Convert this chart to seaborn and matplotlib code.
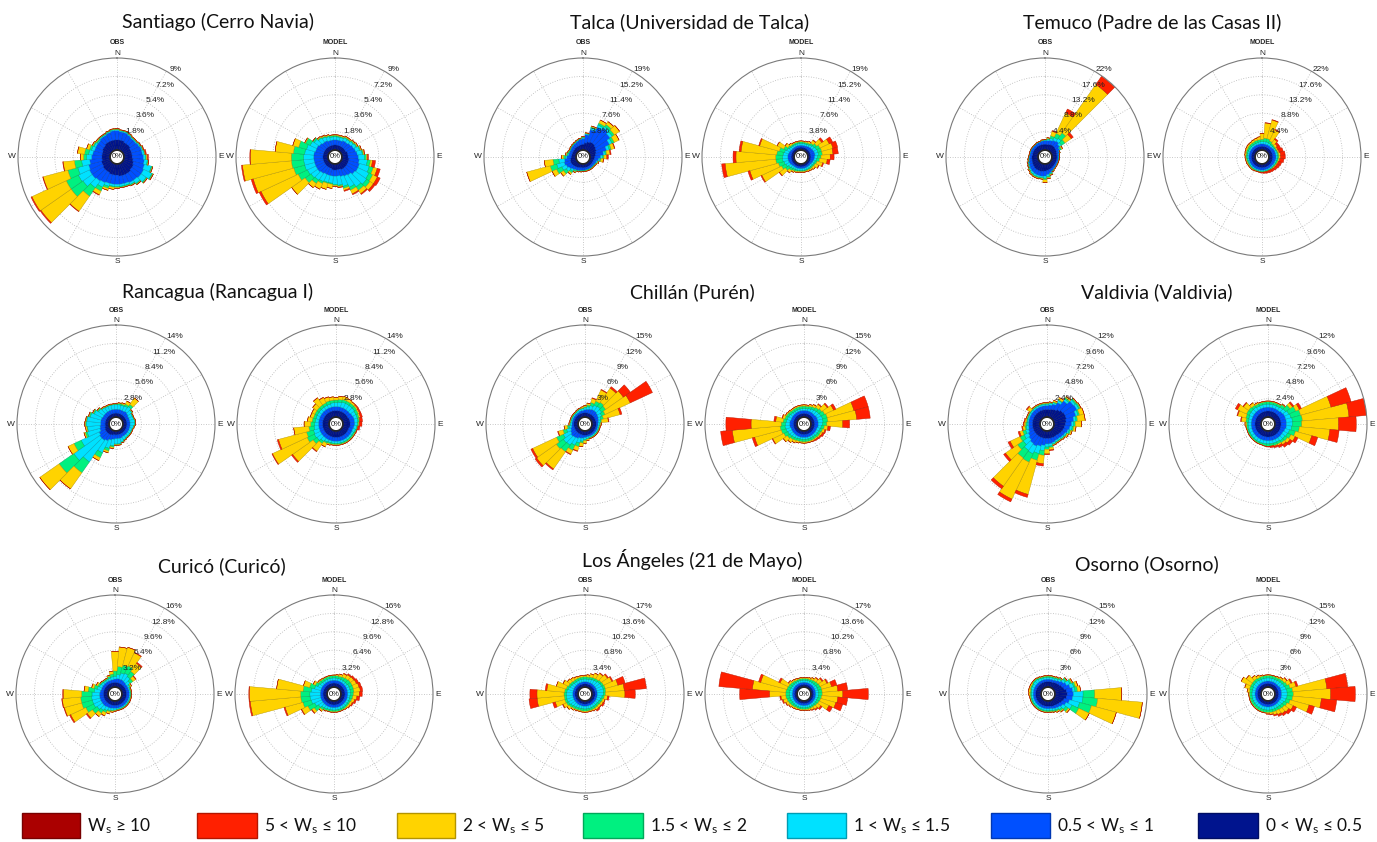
import numpy as np
import matplotlib
matplotlib.use("Agg")
import matplotlib.pyplot as plt
import seaborn as sns
from matplotlib.patches import Rectangle

sns.set_theme(style="white")
plt.rcParams['font.family'] = ['Liberation Sans', 'DejaVu Sans']

W, H = 1377, 842
R = 99

# wind direction bins (deg, clockwise from N)
DIRECTIONS = np.arange(0, 360, 10)

SPEED_LABELS = [r"$\mathregular{W_s}$ ≥ 10", r"5 < $\mathregular{W_s}$ ≤ 10", r"2 < $\mathregular{W_s}$ ≤ 5",
                r"1.5 < $\mathregular{W_s}$ ≤ 2", r"1 < $\mathregular{W_s}$ ≤ 1.5",
                r"0.5 < $\mathregular{W_s}$ ≤ 1", r"0 < $\mathregular{W_s}$ ≤ 0.5"]
# inner (calm) to outer (strong)
SPEED_COLORS = ["#00148E", "#0050FF", "#00E1FF", "#00F080", "#FFD300", "#FF2000", "#AA0000"]

# cumulative frequency (%) per direction, one row per speed class:
# 0-0.5, 0.5-1, 1-1.5, 1.5-2, 2-5, 5-10
SANTIAGO_OBS = [
    [1.0,1.0,1.0,0.9,0.9,0.9,0.8,0.8,0.8, 0.8,0.9,1.0,1.1,1.1,1.2,1.2,1.2,1.2, 1.1,1.1,1.1,1.0,1.0,1.0,0.9,0.9,0.8, 0.8,0.8,0.8,0.9,0.9,1.0,1.0,1.0,1.0],
    [1.9,1.8,1.8,1.7,1.6,1.6,1.7,1.8,1.8, 1.9,2.0,2.1,2.2,2.2,2.1,2.1,2.0,2.0, 2.0,2.0,2.0,2.1,2.2,2.3,2.3,2.2,2.0, 1.8,1.7,1.6,1.6,1.6,1.7,1.7,1.8,1.9],
    [2.0,1.9,1.9,1.8,1.7,1.7,1.8,1.9,2.0, 2.1,2.3,2.8,3.1,2.8,2.5,2.3,2.2,2.2, 2.2,2.2,2.3,2.6,3.0,3.4,3.5,3.3,2.8, 2.3,2.1,1.9,1.8,1.7,1.8,1.8,1.9,2.0],
    [2.05,1.95,1.95,1.85,1.75,1.75,1.85,1.95,2.05, 2.2,2.4,2.9,3.2,2.9,2.6,2.4,2.3,2.3, 2.3,2.3,2.5,3.0,4.0,4.8,4.8,4.3,3.5, 2.6,2.5,2.1,1.9,1.8,1.85,1.85,1.95,2.05],
    [2.1,2.0,2.0,1.9,1.8,1.8,1.9,2.0,2.1, 2.3,2.45,2.95,3.25,2.95,2.65,2.45,2.35,2.35, 2.4,2.5,2.7,3.4,5.8,8.4,8.5,6.8,4.6, 2.9,3.2,2.4,2.0,1.9,1.9,1.9,2.0,2.1],
    [2.1,2.0,2.0,1.9,1.8,1.8,1.9,2.05,2.2, 2.4,2.45,2.95,3.25,2.95,2.65,2.45,2.35,2.35, 2.4,2.5,2.7,3.45,5.85,8.5,8.6,6.85,4.65, 2.9,3.2,2.4,2.0,1.9,1.9,1.9,2.0,2.1],
]
SANTIAGO_MODEL = [
    [0.5,0.5,0.5,0.5,0.5,0.5,0.5,0.6,0.6, 0.6,0.7,0.7,0.7,0.7,0.7,0.7,0.6,0.6, 0.6,0.6,0.5,0.5,0.5,0.5,0.5,0.5,0.5, 0.5,0.5,0.5,0.5,0.5,0.5,0.5,0.5,0.5],
    [1.0,1.0,1.0,1.1,1.1,1.2,1.3,1.4,1.5, 1.6,1.7,1.8,1.8,1.7,1.5,1.4,1.3,1.2, 1.2,1.2,1.2,1.2,1.3,1.4,1.4,1.4,1.4, 1.4,1.4,1.3,1.3,1.2,1.1,1.1,1.0,1.0],
    [1.3,1.3,1.3,1.4,1.4,1.5,1.6,1.8,2.0, 2.2,2.5,2.8,3.0,3.1,2.9,2.6,2.3,2.1, 2.0,1.9,1.9,2.0,2.1,2.2,2.3,2.4,2.4, 2.4,2.3,2.2,2.0,1.8,1.6,1.5,1.4,1.3],
    [1.45,1.4,1.4,1.5,1.5,1.6,1.7,1.9,2.1, 2.4,2.8,3.2,3.4,3.5,3.3,2.9,2.5,2.2, 2.1,2.0,2.0,2.2,2.5,2.9,3.3,3.5,3.6, 3.6,3.4,3.0,2.5,2.0,1.7,1.6,1.5,1.45],
    [1.5,1.5,1.5,1.6,1.6,1.7,1.8,2.0,2.2, 2.5,3.0,3.6,3.9,3.9,3.7,3.3,2.7,2.3, 2.2,2.4,2.6,2.8,3.0,4.5,7.3,7.6,8.4, 7.6,5.2,3.6,2.6,2.0,1.8,1.7,1.6,1.5],
    [1.5,1.5,1.5,1.6,1.6,1.7,1.8,2.0,2.25, 2.6,3.3,3.9,4.2,4.1,3.8,3.4,2.8,2.35, 2.2,2.4,2.6,2.8,3.0,4.5,7.5,7.8,8.5, 7.65,5.2,3.6,2.6,2.0,1.8,1.7,1.6,1.5],
]
TALCA_OBS = [
    [1.2,1.5,1.8,2.0,2.0,1.8,1.6,1.4,1.2, 1.0,0.9,0.8,0.8,0.8,0.8,0.8,0.8,0.8, 0.8,0.8,0.9,1.0,1.1,1.2,1.3,1.3,1.2, 1.0,0.9,0.9,0.9,0.9,1.0,1.0,1.0,1.1],
    [2.4,3.2,4.4,5.4,5.8,5.4,4.6,3.6,2.8, 2.2,1.8,1.5,1.4,1.3,1.3,1.3,1.3,1.3, 1.3,1.4,1.5,1.6,1.8,2.1,2.4,2.6,2.4, 1.9,1.6,1.5,1.5,1.6,1.7,1.8,2.0,2.2],
    [2.6,3.4,4.8,5.9,6.3,6.0,5.2,4.2,3.2, 2.6,2.1,1.7,1.5,1.4,1.4,1.4,1.4,1.4, 1.4,1.5,1.6,1.8,2.2,2.8,3.4,4.2,3.6, 2.2,1.8,1.6,1.6,1.7,1.8,1.9,2.1,2.3],
    [2.7,3.5,5.0,6.3,6.8,6.5,5.7,4.6,3.5, 2.9,2.3,1.8,1.6,1.5,1.5,1.5,1.5,1.5, 1.5,1.6,1.7,2.0,2.6,3.5,4.6,5.6,4.8, 2.6,2.0,1.8,1.7,1.8,1.9,2.0,2.2,2.4],
    [2.8,3.6,5.2,7.0,7.5,7.8,6.8,5.3,4.2, 3.5,2.8,2.0,1.7,1.6,1.6,1.6,1.6,1.6, 1.6,1.7,1.8,2.2,3.0,4.2,5.6,10.6,6.6, 3.0,2.2,1.9,1.8,1.9,2.0,2.1,2.3,2.5],
    [2.8,3.6,5.2,7.0,7.5,7.8,6.8,5.4,4.4, 3.8,2.9,2.0,1.7,1.6,1.6,1.6,1.6,1.6, 1.6,1.7,1.8,2.2,3.0,4.2,5.6,10.6,6.6, 3.0,2.2,1.9,1.8,1.9,2.0,2.1,2.3,2.5],
]
TALCA_MODEL = [
    [0.6,0.6,0.6,0.6,0.6,0.6,0.6,0.6,0.6, 0.6,0.6,0.6,0.6,0.6,0.6,0.6,0.6,0.6, 0.6,0.6,0.6,0.6,0.6,0.6,0.6,0.6,0.6, 0.6,0.6,0.6,0.6,0.6,0.6,0.6,0.6,0.6],
    [1.0,1.0,1.0,1.1,1.2,1.3,1.4,1.5,1.5, 1.4,1.3,1.2,1.1,1.0,1.0,1.0,1.0,1.0, 1.0,1.0,1.0,1.0,1.0,1.1,1.2,1.3,1.3, 1.3,1.3,1.2,1.1,1.0,1.0,1.0,1.0,1.0],
    [1.4,1.4,1.4,1.5,1.7,1.9,2.1,2.2,2.2, 2.0,1.8,1.6,1.5,1.4,1.4,1.4,1.4,1.4, 1.4,1.4,1.4,1.4,1.5,1.7,2.0,2.2,2.4, 2.4,2.3,2.1,1.8,1.5,1.4,1.4,1.4,1.4],
    [1.7,1.7,1.7,1.8,2.1,2.5,2.9,3.0,3.0, 2.7,2.4,2.0,1.8,1.7,1.7,1.6,1.6,1.6, 1.6,1.6,1.7,1.8,2.0,2.5,3.0,3.4,3.8, 3.8,3.6,3.2,2.5,1.9,1.7,1.7,1.7,1.7],
    [1.9,1.9,2.0,2.2,2.8,3.8,5.0,5.4,5.2, 4.6,4.0,3.2,2.6,2.2,2.0,1.9,1.8,1.8, 1.8,1.8,1.9,2.1,2.6,4.0,7.5,9.5,14.3, 12.0,11.0,7.4,4.0,2.6,2.1,1.9,1.9,1.9],
    [1.9,1.9,2.0,2.2,2.9,4.2,5.8,6.4,6.3, 5.4,4.6,3.4,2.7,2.2,2.0,1.9,1.8,1.8, 1.8,1.8,1.9,2.1,2.6,4.1,7.7,9.9,15.0, 12.6,11.4,7.6,4.0,2.6,2.1,1.9,1.9,1.9],
]
TEMUCO_OBS = [
    [1.4,1.4,1.5,1.6,1.6,1.5,1.4,1.3,1.2, 1.2,1.2,1.2,1.2,1.2,1.3,1.4,1.5,1.6, 1.7,1.8,1.9,1.9,1.9,1.8,1.7,1.6,1.5, 1.5,1.4,1.4,1.4,1.4,1.4,1.4,1.4,1.4],
    [2.2,2.3,2.5,2.8,3.0,2.6,2.2,1.9,1.7, 1.6,1.6,1.6,1.6,1.7,1.8,2.0,2.3,2.6, 2.9,3.0,3.0,3.0,2.9,2.8,2.6,2.4,2.2, 2.1,2.0,2.0,2.0,2.0,2.0,2.1,2.1,2.2],
    [2.4,2.6,3.0,3.5,3.8,3.2,2.4,2.0,1.8, 1.7,1.7,1.7,1.7,1.8,1.9,2.1,2.5,3.0, 3.4,3.3,3.4,3.4,3.3,3.1,2.8,2.6,2.3, 2.2,2.1,2.1,2.1,2.1,2.1,2.2,2.2,2.3],
    [2.5,2.8,3.6,4.6,5.4,4.2,2.7,2.1,1.85, 1.75,1.75,1.75,1.75,1.85,1.95,2.2,2.7,3.3, 3.8,3.5,3.6,3.6,3.5,3.2,2.9,2.7,2.4, 2.25,2.15,2.15,2.15,2.15,2.15,2.25,2.25,2.4],
    [2.6,3.0,4.7,10.0,19.5,6.0,3.0,2.1,1.9, 1.8,1.8,1.8,1.8,1.9,2.0,2.3,2.9,3.6, 4.5,3.7,3.8,3.8,3.7,3.4,3.0,2.8,2.5, 2.3,2.2,2.2,2.2,2.2,2.2,2.3,2.3,2.5],
    [2.6,3.0,4.9,11.0,21.9,6.6,3.0,2.1,1.9, 1.8,1.8,1.8,1.8,1.9,2.0,2.3,2.9,3.6, 4.5,3.7,3.8,3.8,3.7,3.4,3.0,2.8,2.5, 2.3,2.2,2.2,2.2,2.2,2.2,2.3,2.3,2.5],
]
TEMUCO_MODEL = [
    [0.9,0.9,0.9,0.9,0.9,0.9,0.9,0.9,0.9, 0.9,0.9,0.9,0.9,0.9,0.9,0.9,0.9,0.9, 0.9,0.9,0.9,0.9,0.9,0.9,0.9,0.9,0.9, 0.9,0.9,0.9,0.9,0.9,0.9,0.9,0.9,0.9],
    [1.5,1.5,1.5,1.5,1.5,1.6,1.7,1.7,1.7, 1.7,1.7,1.6,1.6,1.5,1.5,1.5,1.5,1.5, 1.5,1.5,1.5,1.5,1.5,1.5,1.5,1.5,1.5, 1.5,1.5,1.5,1.5,1.5,1.5,1.5,1.5,1.5],
    [2.0,2.1,2.1,2.0,1.9,1.9,2.0,2.1,2.1, 2.1,2.0,1.9,1.9,1.8,1.8,1.8,1.8,1.8, 1.8,1.8,1.8,1.8,1.8,1.8,1.8,1.8,1.8, 1.9,1.9,1.9,1.9,1.9,1.9,1.9,1.9,2.0],
    [2.6,2.9,2.9,2.6,2.3,2.2,2.2,2.3,2.4, 2.4,2.3,2.2,2.1,2.0,2.0,1.95,1.95,1.95, 1.95,1.95,1.95,1.95,2.0,2.0,2.0,2.05,2.1, 2.2,2.2,2.3,2.3,2.4,2.4,2.4,2.5,2.5],
    [4.0,6.5,7.5,5.5,3.5,2.8,2.5,2.6,2.8, 2.8,2.6,2.4,2.3,2.2,2.1,2.0,2.0,2.0, 2.0,2.0,2.0,2.1,2.2,2.2,2.2,2.3,2.3, 2.4,2.5,2.6,2.7,2.8,2.8,2.9,3.0,3.2],
    [4.0,6.6,7.6,5.7,3.8,3.3,3.3,3.6,3.9, 3.9,3.6,3.2,3.0,2.8,2.6,2.5,2.4,2.3, 2.2,2.1,2.0,2.1,2.2,2.2,2.2,2.3,2.3, 2.4,2.5,2.6,2.7,2.8,2.8,2.9,3.0,3.2],
]
RANCAGUA_OBS = [
    [0.6,0.6,0.6,0.6,0.6,0.6,0.6,0.6,0.6, 0.6,0.6,0.6,0.6,0.6,0.6,0.6,0.6,0.6, 0.6,0.6,0.7,0.8,0.8,0.8,0.8,0.7,0.6, 0.6,0.6,0.6,0.6,0.6,0.6,0.6,0.6,0.6],
    [1.2,1.2,1.2,1.2,1.3,1.2,1.1,1.1,1.1, 1.1,1.1,1.1,1.1,1.1,1.1,1.1,1.2,1.2, 1.2,1.3,1.5,1.8,2.0,2.0,1.8,1.5,1.4, 1.3,1.3,1.3,1.2,1.2,1.2,1.2,1.2,1.2],
    [1.9,1.9,1.9,2.0,2.2,1.9,1.7,1.7,1.8, 1.8,1.6,1.5,1.5,1.5,1.5,1.6,1.8,2.0, 2.0,2.3,2.8,3.8,6.0,6.8,4.8,3.5,3.3, 3.5,3.4,3.0,2.6,2.2,2.0,1.9,1.9,1.9],
    [2.0,2.1,2.1,2.3,2.6,2.0,1.8,1.8,1.9, 1.9,1.7,1.6,1.6,1.6,1.6,1.7,1.9,2.1, 2.1,2.5,3.2,4.6,8.0,9.5,6.0,3.8,3.4, 3.6,3.5,3.2,2.8,2.4,2.1,2.0,2.0,2.0],
    [2.05,2.2,2.3,2.8,3.8,2.1,1.85,1.85,1.95, 1.95,1.75,1.65,1.65,1.65,1.65,1.75,1.95,2.2, 2.2,2.7,3.5,5.1,11.0,13.1,7.0,4.0,3.6, 3.7,3.6,3.3,2.9,2.5,2.2,2.1,2.1,2.05],
    [2.05,2.2,2.3,2.8,3.8,2.1,1.85,1.85,1.95, 1.95,1.75,1.65,1.65,1.65,1.65,1.75,1.95,2.2, 2.2,2.7,3.5,5.1,11.0,13.1,7.0,4.0,3.6, 3.7,3.6,3.3,2.9,2.5,2.2,2.1,2.1,2.05],
]
RANCAGUA_MODEL = [
    [1.0,1.0,1.0,1.0,1.0,1.0,1.0,1.1,1.1, 1.1,1.1,1.0,1.0,1.0,1.0,1.0,1.0,1.0, 1.0,1.0,1.0,1.0,1.0,1.0,1.0,1.0,1.0, 1.0,1.0,1.0,1.0,1.0,1.0,1.0,1.0,1.0],
    [1.6,1.6,1.6,1.6,1.6,1.6,1.7,1.8,1.8, 1.8,1.7,1.6,1.6,1.6,1.6,1.6,1.6,1.6, 1.6,1.6,1.6,1.6,1.6,1.6,1.6,1.6,1.6, 1.6,1.6,1.6,1.6,1.6,1.6,1.6,1.6,1.6],
    [2.2,2.3,2.4,2.4,2.4,2.4,2.3,2.3,2.3, 2.2,2.1,2.0,1.9,1.9,1.9,1.9,1.9,1.9, 1.9,1.9,1.9,2.0,2.2,2.5,2.6,2.5,2.3, 2.2,2.1,2.1,2.1,2.1,2.1,2.1,2.1,2.2],
    [2.6,2.7,2.8,2.8,2.8,2.8,2.7,2.6,2.5, 2.4,2.3,2.2,2.1,2.1,2.1,2.1,2.1,2.1, 2.1,2.1,2.1,2.2,2.6,3.2,3.8,3.6,3.1, 2.8,2.6,2.5,2.5,2.5,2.5,2.5,2.6,2.6],
    [3.0,3.2,3.3,3.2,3.1,3.0,2.9,2.8,2.6, 2.5,2.3,2.2,2.2,2.2,2.2,2.2,2.2,2.2, 2.2,2.2,2.3,2.8,4.0,7.0,9.6,8.0,5.4, 3.8,3.3,3.0,3.0,3.3,3.8,3.4,3.2,3.1],
    [3.0,3.2,3.3,3.2,3.1,3.15,3.1,3.1,3.0, 2.9,2.6,2.3,2.2,2.2,2.2,2.2,2.2,2.2, 2.2,2.2,2.3,2.8,4.1,7.2,9.7,8.2,5.4, 3.8,3.3,3.0,3.0,3.3,3.85,3.45,3.25,3.1],
]
CHILLAN_OBS = [
    [0.7,0.7,0.7,0.7,0.7,0.7,0.7,0.7,0.7, 0.7,0.7,0.7,0.7,0.7,0.7,0.7,0.7,0.7, 0.7,0.7,0.7,0.7,0.7,0.7,0.7,0.7,0.7, 0.7,0.7,0.7,0.7,0.7,0.7,0.7,0.7,0.7],
    [1.2,1.3,1.4,1.5,1.5,1.4,1.3,1.2,1.1, 1.0,1.0,1.0,1.0,1.0,1.0,1.0,1.0,1.0, 1.1,1.2,1.3,1.5,1.6,1.7,1.5,1.3,1.1, 1.0,1.0,1.0,1.0,1.0,1.0,1.0,1.1,1.1],
    [1.5,1.7,2.0,2.3,2.4,2.2,1.9,1.6,1.4, 1.3,1.2,1.2,1.2,1.2,1.2,1.2,1.2,1.3, 1.4,1.7,2.1,2.7,3.1,3.2,2.8,2.0,1.5, 1.3,1.2,1.2,1.2,1.2,1.2,1.3,1.4,1.4],
    [1.7,2.0,2.5,3.0,3.2,3.0,2.5,2.0,1.6, 1.4,1.3,1.3,1.3,1.3,1.3,1.3,1.3,1.4, 1.6,2.0,2.7,3.6,4.4,4.6,4.0,2.6,1.8, 1.4,1.3,1.3,1.3,1.3,1.3,1.4,1.5,1.5],
    [1.9,2.3,3.2,5.0,6.0,6.5,7.0,4.8,2.7, 1.6,1.4,1.4,1.4,1.4,1.4,1.4,1.4,1.6, 2.0,2.6,3.4,4.3,7.8,8.5,8.3,3.4,2.3, 1.5,1.4,1.4,1.4,1.4,1.4,1.5,1.6,1.7],
    [1.9,2.3,3.3,5.1,6.3,7.9,11.0,5.1,2.8, 1.6,1.4,1.4,1.4,1.4,1.4,1.4,1.4,1.6, 2.0,2.6,3.5,4.4,8.0,8.8,8.6,3.5,2.3, 1.5,1.4,1.4,1.4,1.4,1.4,1.5,1.6,1.7],
]
CHILLAN_MODEL = [
    [0.6,0.6,0.6,0.6,0.6,0.6,0.6,0.6,0.6, 0.6,0.6,0.6,0.6,0.6,0.6,0.6,0.6,0.6, 0.6,0.6,0.6,0.6,0.6,0.6,0.6,0.6,0.6, 0.6,0.6,0.6,0.6,0.6,0.6,0.6,0.6,0.6],
    [1.1,1.1,1.1,1.1,1.1,1.1,1.2,1.2,1.2, 1.2,1.2,1.1,1.1,1.1,1.1,1.1,1.1,1.1, 1.1,1.1,1.1,1.1,1.1,1.1,1.1,1.1,1.2, 1.2,1.2,1.1,1.1,1.1,1.1,1.1,1.1,1.1],
    [1.4,1.4,1.5,1.6,1.7,1.8,1.9,2.0,2.0, 1.9,1.7,1.6,1.5,1.5,1.4,1.4,1.4,1.4, 1.4,1.4,1.4,1.5,1.6,1.7,1.8,1.9,2.0, 1.9,1.8,1.7,1.6,1.5,1.4,1.4,1.4,1.4],
    [1.8,1.8,1.9,2.0,2.2,2.4,2.6,2.8,2.8, 2.6,2.2,2.0,1.9,1.9,1.8,1.8,1.8,1.8, 1.8,1.8,1.8,1.9,2.0,2.2,2.5,2.7,2.8, 2.6,2.3,2.1,2.0,1.9,1.8,1.8,1.8,1.8],
    [2.0,2.0,2.2,2.4,2.8,3.5,4.2,7.3,7.5, 5.2,2.8,2.4,2.2,2.1,2.0,2.0,2.0,2.0, 2.0,2.0,2.1,2.3,2.6,3.0,4.5,7.2,10.6, 7.5,3.5,2.5,2.2,2.1,2.0,2.0,2.0,2.0],
    [2.0,2.0,2.2,2.4,2.9,3.7,4.6,9.7,9.7, 6.3,3.2,2.6,2.5,2.3,2.2,2.1,2.0,2.0, 2.0,2.0,2.1,2.3,2.6,3.0,4.6,7.6,12.5, 11.6,3.8,2.6,2.2,2.1,2.0,2.0,2.0,2.0],
]
VALDIVIA_OBS = [
    [1.0,1.0,1.1,1.2,1.4,1.6,1.7,1.7,1.6, 1.5,1.4,1.3,1.2,1.1,1.0,1.0,1.0,1.0, 1.0,1.0,1.0,1.0,1.0,1.0,1.0,1.0,1.0, 1.0,1.0,1.0,1.0,1.0,1.0,1.0,1.0,1.0],
    [1.5,1.6,1.8,2.2,2.8,3.3,3.4,3.0,2.6, 2.3,2.1,1.9,1.7,1.6,1.5,1.5,1.6,1.7, 1.7,1.9,2.1,2.3,2.2,2.0,1.8,1.6,1.5, 1.5,1.5,1.5,1.5,1.5,1.5,1.5,1.5,1.5],
    [1.7,1.8,2.0,2.5,3.1,3.6,3.7,3.3,2.9, 2.6,2.4,2.1,1.9,1.8,1.7,1.7,1.8,2.0, 2.1,2.6,3.1,3.4,3.3,2.9,2.4,2.0,1.8, 1.7,1.7,1.7,1.7,1.7,1.7,1.7,1.7,1.7],
    [1.8,1.9,2.1,2.6,3.3,3.8,3.9,3.5,3.1, 2.8,2.6,2.3,2.0,1.9,1.8,1.8,1.9,2.2, 2.4,3.2,4.0,4.6,4.5,3.8,3.0,2.4,2.0, 1.9,1.8,1.8,1.8,1.8,1.8,1.8,1.8,1.8],
    [1.9,2.0,2.3,2.9,3.5,3.9,4.0,4.1,4.1, 3.6,2.9,2.5,2.2,2.0,1.9,1.9,2.0,2.5, 3.0,4.3,8.6,9.9,9.0,5.7,4.4,2.8,2.3, 2.1,2.0,1.9,1.9,2.3,1.9,1.9,1.9,1.9],
    [1.9,2.0,2.3,2.9,3.5,3.9,4.0,4.1,4.1, 3.6,2.9,2.5,2.2,2.0,1.9,1.9,2.0,2.6, 3.1,4.6,9.0,10.3,9.4,6.0,4.7,3.0,2.4, 2.2,2.1,1.9,1.9,2.4,1.9,1.9,1.9,1.9],
]
VALDIVIA_MODEL = [
    [0.8,0.8,0.8,0.8,0.8,0.8,0.8,0.8,0.8, 0.8,0.8,0.8,0.8,0.8,0.8,0.8,0.8,0.8, 0.8,0.8,0.8,0.8,0.8,0.8,0.8,0.8,0.8, 0.8,0.8,0.8,0.8,0.8,0.8,0.8,0.8,0.8],
    [1.3,1.3,1.3,1.3,1.3,1.4,1.5,1.5,1.5, 1.5,1.5,1.4,1.3,1.3,1.3,1.3,1.3,1.3, 1.3,1.3,1.3,1.3,1.3,1.3,1.3,1.3,1.3, 1.3,1.3,1.3,1.3,1.3,1.3,1.3,1.3,1.3],
    [1.7,1.7,1.7,1.7,1.8,1.9,2.1,2.2,2.3, 2.3,2.2,2.0,1.9,1.8,1.8,1.7,1.7,1.7, 1.7,1.7,1.7,1.7,1.7,1.7,1.7,1.7,1.7, 1.7,1.7,1.7,1.8,1.8,1.8,1.7,1.7,1.7],
    [2.0,2.0,2.0,2.0,2.2,2.6,3.1,3.5,3.6, 3.5,3.2,2.8,2.4,2.2,2.1,2.0,2.0,2.0, 2.0,2.0,1.9,1.9,1.9,1.9,1.9,1.9,1.9, 1.9,2.0,2.1,2.2,2.2,2.1,2.0,2.0,2.0],
    [2.1,2.1,2.1,2.1,2.3,3.0,3.6,7.6,9.7, 8.3,7.2,5.0,3.0,2.6,2.4,2.2,2.1,2.0, 2.0,2.0,1.95,1.95,1.95,1.95,1.95,1.95,2.0, 2.1,2.6,3.2,3.5,3.0,2.5,2.2,2.1,2.1],
    [2.1,2.1,2.1,2.1,2.3,3.2,3.9,10.3,12.0, 10.6,8.4,5.8,3.4,3.0,2.8,2.5,2.3,2.2, 2.1,2.0,1.95,1.95,1.95,1.95,1.95,1.95,2.0, 2.1,2.7,3.3,3.8,3.1,2.5,2.2,2.1,2.1],
]
CURICO_OBS = [
    [0.8,0.8,0.8,0.8,0.8,0.8,0.8,0.8,0.8, 0.8,0.8,0.8,0.8,0.8,0.8,0.8,0.8,0.8, 0.8,0.8,0.8,0.8,0.8,0.8,0.8,0.8,0.8, 0.8,0.8,0.8,0.8,0.8,0.8,0.8,0.8,0.8],
    [1.4,1.5,1.5,1.5,1.4,1.3,1.3,1.3,1.3, 1.3,1.3,1.3,1.3,1.3,1.3,1.3,1.3,1.3, 1.3,1.3,1.4,1.4,1.5,1.5,1.5,1.5,1.5, 1.5,1.4,1.3,1.3,1.3,1.3,1.3,1.3,1.3],
    [1.9,2.2,2.6,2.8,2.5,2.0,1.6,1.5,1.5, 1.5,1.5,1.5,1.5,1.5,1.5,1.5,1.5,1.5, 1.6,1.7,1.8,2.0,2.3,2.6,2.9,2.9,2.9, 2.8,2.4,2.0,1.8,1.7,1.6,1.6,1.7,1.8],
    [2.8,3.6,4.0,4.2,3.6,2.6,1.8,1.6,1.6, 1.6,1.6,1.6,1.6,1.6,1.6,1.6,1.6,1.6, 1.7,1.8,2.0,2.4,2.9,3.6,4.4,4.8,4.8, 4.6,3.5,2.6,2.1,1.9,1.8,1.8,2.0,2.3],
    [6.2,7.0,7.2,6.7,5.3,3.2,2.0,1.7,1.7, 1.7,1.7,1.7,1.7,1.7,1.7,1.7,1.7,1.7, 1.8,2.0,2.4,3.0,3.6,4.7,7.3,7.9,8.0, 7.8,4.2,3.0,2.4,2.0,1.9,1.9,2.2,2.8],
    [6.2,7.0,7.2,6.8,5.5,3.3,2.0,1.7,1.7, 1.7,1.7,1.7,1.7,1.7,1.7,1.7,1.7,1.7, 1.8,2.0,2.4,3.0,3.6,4.9,7.5,8.0,8.1, 7.9,4.2,3.0,2.4,2.0,1.9,1.9,2.2,2.8],
]
CURICO_MODEL = [
    [0.7,0.7,0.7,0.7,0.7,0.7,0.7,0.7,0.7, 0.7,0.7,0.7,0.7,0.7,0.7,0.7,0.7,0.7, 0.7,0.7,0.7,0.7,0.7,0.7,0.7,0.7,0.7, 0.7,0.7,0.7,0.7,0.7,0.7,0.7,0.7,0.7],
    [1.2,1.2,1.2,1.2,1.2,1.2,1.2,1.2,1.2, 1.2,1.2,1.2,1.2,1.2,1.2,1.2,1.2,1.2, 1.2,1.2,1.2,1.2,1.2,1.2,1.2,1.2,1.2, 1.2,1.2,1.2,1.2,1.2,1.2,1.2,1.2,1.2],
    [1.6,1.6,1.6,1.6,1.6,1.6,1.7,1.7,1.7, 1.7,1.6,1.6,1.6,1.6,1.6,1.6,1.6,1.6, 1.6,1.6,1.6,1.7,1.8,2.1,2.5,2.9,3.0, 3.0,2.8,2.3,1.9,1.7,1.6,1.6,1.6,1.6],
    [2.0,2.0,2.0,2.1,2.2,2.3,2.3,2.3,2.3, 2.2,2.1,2.0,1.9,1.9,1.9,1.9,1.9,1.9, 1.9,1.9,1.9,2.0,2.2,3.0,3.8,4.4,4.6, 4.6,4.2,3.2,2.4,2.1,2.0,2.0,2.0,2.0],
    [2.1,2.2,2.4,2.7,2.9,3.0,3.1,3.3,3.4, 3.2,2.8,2.5,2.3,2.2,2.1,2.0,2.0,2.0, 2.0,2.0,2.0,2.1,2.5,3.5,5.0,7.6,13.4, 13.5,8.8,4.3,2.8,2.3,2.2,2.1,2.1,2.1],
    [2.1,2.2,2.4,2.8,3.1,3.3,3.5,3.7,3.8, 3.7,3.3,2.8,2.5,2.3,2.1,2.0,2.0,2.0, 2.0,2.0,2.0,2.1,2.5,3.6,5.1,7.8,13.6, 13.6,8.8,4.3,2.8,2.3,2.2,2.1,2.1,2.1],
]
LOS_ANGELES_OBS = [
    [0.6,0.6,0.6,0.6,0.6,0.6,0.6,0.6,0.6, 0.6,0.6,0.6,0.6,0.6,0.6,0.6,0.6,0.6, 0.6,0.6,0.6,0.6,0.6,0.6,0.6,0.6,0.6, 0.6,0.6,0.6,0.6,0.6,0.6,0.6,0.6,0.6],
    [1.0,1.0,1.0,1.0,1.0,1.0,1.0,1.0,1.0, 1.0,1.0,1.0,1.0,1.0,1.0,1.0,1.0,1.0, 1.0,1.0,1.0,1.0,1.0,1.0,1.0,1.0,1.0, 1.0,1.0,1.0,1.0,1.0,1.0,1.0,1.0,1.0],
    [1.5,1.5,1.6,1.7,1.8,2.0,2.1,2.2,2.2, 2.1,1.9,1.7,1.6,1.5,1.5,1.5,1.5,1.5, 1.5,1.5,1.5,1.6,1.7,1.9,2.1,2.2,2.2, 2.2,2.1,1.9,1.7,1.6,1.5,1.5,1.5,1.5],
    [1.9,1.9,2.0,2.1,2.2,2.4,2.5,2.6,2.6, 2.5,2.3,2.1,2.0,1.9,1.9,1.9,1.9,1.9, 1.9,1.9,1.9,2.0,2.1,2.3,2.5,2.6,2.6, 2.6,2.5,2.3,2.1,2.0,1.9,1.9,1.9,1.9],
    [2.2,2.3,2.6,3.0,3.4,3.8,4.2,5.0,6.0, 6.1,2.9,2.5,2.4,2.3,2.3,2.2,2.1,2.1, 2.1,2.1,2.1,2.2,2.4,2.8,3.2,4.4,7.6, 7.6,5.8,4.2,3.2,2.7,2.5,2.3,2.2,2.2],
    [2.2,2.3,2.6,3.0,3.5,4.0,4.4,6.4,10.1, 8.0,3.2,2.6,2.7,2.4,2.6,2.2,2.1,2.1, 2.1,2.1,2.1,2.2,2.4,2.8,3.3,4.9,9.1, 8.9,6.1,4.2,3.2,2.7,2.5,2.3,2.2,2.2],
]
LOS_ANGELES_MODEL = [
    [0.5,0.5,0.5,0.5,0.5,0.5,0.5,0.5,0.5, 0.5,0.5,0.5,0.5,0.5,0.5,0.5,0.5,0.5, 0.5,0.5,0.5,0.5,0.5,0.5,0.5,0.5,0.5, 0.5,0.5,0.5,0.5,0.5,0.5,0.5,0.5,0.5],
    [0.9,0.9,0.9,0.9,0.9,0.9,0.9,0.9,0.9, 0.9,0.9,0.9,0.9,0.9,0.9,0.9,0.9,0.9, 0.9,0.9,0.9,0.9,0.9,0.9,0.9,0.9,0.9, 0.9,0.9,0.9,0.9,0.9,0.9,0.9,0.9,0.9],
    [1.3,1.3,1.3,1.3,1.3,1.3,1.4,1.4,1.4, 1.4,1.4,1.3,1.3,1.3,1.3,1.3,1.3,1.3, 1.3,1.3,1.3,1.3,1.3,1.3,1.3,1.4,1.4, 1.4,1.4,1.4,1.3,1.3,1.3,1.3,1.3,1.3],
    [1.6,1.6,1.6,1.7,1.8,1.9,2.0,2.1,2.1, 2.1,2.0,1.9,1.8,1.7,1.6,1.6,1.6,1.6, 1.6,1.6,1.6,1.6,1.7,1.8,1.9,2.0,2.1, 2.1,2.1,2.0,1.9,1.8,1.7,1.6,1.6,1.6],
    [1.8,1.8,1.9,2.1,2.4,2.8,3.4,4.0,5.0, 5.9,5.0,4.8,3.8,2.5,2.2,2.0,1.9,1.8, 1.8,1.8,1.8,1.9,2.0,2.2,2.4,2.7,3.0, 5.1,8.3,7.0,3.6,2.2,2.0,1.9,1.8,1.8],
    [1.8,1.8,1.9,2.1,2.5,3.0,3.6,5.0,6.8, 10.6,6.8,6.1,4.5,2.8,2.4,2.1,1.9,1.8, 1.8,1.8,1.8,1.9,2.0,2.2,2.5,2.9,3.2, 10.6,14.5,7.4,3.9,2.3,2.0,1.9,1.8,1.8],
]
OSORNO_OBS = [
    [0.9,0.9,0.9,1.0,1.1,1.2,1.4,1.6,1.9, 2.0,1.9,1.6,1.4,1.2,1.1,1.0,1.0,0.9, 0.9,0.9,0.9,0.9,0.9,0.9,0.9,0.9,0.9, 0.9,0.9,0.9,0.9,0.9,0.9,0.9,0.9,0.9],
    [1.3,1.3,1.3,1.4,1.6,1.9,2.2,2.6,2.9, 3.0,2.9,2.5,2.1,1.8,1.6,1.5,1.4,1.3, 1.3,1.3,1.3,1.3,1.3,1.3,1.3,1.3,1.3, 1.3,1.3,1.3,1.3,1.3,1.3,1.3,1.3,1.3],
    [1.6,1.6,1.6,1.7,1.9,2.3,2.8,3.2,3.3, 4.6,4.6,4.2,3.2,2.4,2.0,1.8,1.7,1.6, 1.6,1.6,1.6,1.6,1.6,1.6,1.6,1.6,1.6, 1.6,1.6,1.7,1.7,1.8,1.8,1.7,1.6,1.6],
    [1.8,1.8,1.8,1.9,2.1,2.6,3.1,3.5,3.7, 6.5,7.0,6.2,4.4,2.9,2.3,2.0,1.9,1.8, 1.8,1.8,1.8,1.8,1.8,1.8,1.8,1.8,1.8, 1.8,1.8,1.9,1.9,2.0,2.0,1.9,1.8,1.8],
    [1.9,1.9,1.9,2.0,2.2,2.7,3.3,3.9,4.2, 10.9,14.3,10.4,6.3,3.2,2.5,2.2,2.0,1.9, 1.9,1.9,1.9,1.9,1.9,1.9,1.9,1.9,1.9, 2.0,2.1,2.1,2.1,2.1,2.1,2.0,1.9,1.9],
    [1.9,1.9,1.9,2.0,2.2,2.7,3.3,3.9,4.2, 10.9,14.3,10.4,6.3,3.2,2.5,2.2,2.0,1.9, 1.9,1.9,1.9,1.9,1.9,1.9,1.9,1.9,1.9, 2.0,2.1,2.1,2.1,2.1,2.1,2.0,1.9,1.9],
]
OSORNO_MODEL = [
    [0.6,0.6,0.6,0.6,0.6,0.6,0.6,0.6,0.6, 0.6,0.6,0.6,0.6,0.6,0.6,0.6,0.6,0.6, 0.6,0.6,0.6,0.6,0.6,0.6,0.6,0.6,0.6, 0.6,0.6,0.6,0.6,0.6,0.6,0.6,0.6,0.6],
    [1.0,1.0,1.0,1.0,1.0,1.0,1.1,1.1,1.1, 1.1,1.1,1.1,1.0,1.0,1.0,1.0,1.0,1.0, 1.0,1.0,1.0,1.0,1.0,1.0,1.0,1.0,1.0, 1.0,1.0,1.0,1.0,1.0,1.0,1.0,1.0,1.0],
    [1.5,1.5,1.5,1.5,1.6,1.7,1.8,1.9,2.0, 2.0,2.0,1.9,1.7,1.6,1.5,1.5,1.5,1.5, 1.5,1.5,1.5,1.5,1.5,1.5,1.5,1.5,1.5, 1.5,1.5,1.5,1.6,1.6,1.6,1.5,1.5,1.5],
    [1.9,1.9,1.9,1.9,2.0,2.1,2.3,2.6,2.9, 3.0,2.9,2.6,2.3,2.1,2.0,1.9,1.9,1.9, 1.9,1.9,1.9,1.9,1.9,1.9,1.9,1.9,1.9, 1.9,1.9,2.0,2.0,2.0,2.0,1.9,1.9,1.9],
    [2.0,2.0,2.0,2.1,2.3,2.6,3.0,3.6,8.5, 9.1,7.6,5.8,3.4,3.0,2.8,2.6,2.4,2.2, 2.1,2.0,2.0,2.0,2.0,2.0,2.0,2.0,2.0, 2.1,2.3,2.8,3.7,3.2,2.6,2.3,2.1,2.0],
    [2.0,2.0,2.0,2.1,2.3,2.7,3.2,3.9,11.9, 13.1,10.1,6.7,4.0,3.5,3.2,2.9,2.6,2.3, 2.2,2.0,2.0,2.0,2.0,2.0,2.0,2.0,2.0, 2.1,2.3,2.8,3.7,3.2,2.6,2.3,2.1,2.0],
]

# axis maximum (%) of each station pair
VMAX = {"Santiago": 9, "Talca": 19, "Temuco": 22, "Rancagua": 14, "Chillan": 15,
        "Valdivia": 12, "Curico": 16, "Los Angeles": 17, "Osorno": 15}

# layout in pixels: (title, title x, title y, [(centre x, centre y, tag, data)], vmax)
PANELS = [
    ("Santiago (Cerro Navia)", 218, 22, [(117, 157, "OBS", SANTIAGO_OBS), (335, 157, "MODEL", SANTIAGO_MODEL)], VMAX["Santiago"]),
    ("Talca (Universidad de Talca)", 690, 22, [(583, 157, "OBS", TALCA_OBS), (801, 157, "MODEL", TALCA_MODEL)], VMAX["Talca"]),
    ("Temuco (Padre de las Casas II)", 1152, 22, [(1045, 157, "OBS", TEMUCO_OBS), (1262, 157, "MODEL", TEMUCO_MODEL)], VMAX["Temuco"]),
    ("Rancagua (Rancagua I)", 218, 292, [(116, 424, "OBS", RANCAGUA_OBS), (336, 424, "MODEL", RANCAGUA_MODEL)], VMAX["Rancagua"]),
    ("Chillán (Purén)", 692, 292, [(585, 424, "OBS", CHILLAN_OBS), (804, 424, "MODEL", CHILLAN_MODEL)], VMAX["Chillan"]),
    ("Valdivia (Valdivia)", 1157, 292, [(1047, 424, "OBS", VALDIVIA_OBS), (1268, 424, "MODEL", VALDIVIA_MODEL)], VMAX["Valdivia"]),
    ("Curicó (Curicó)", 222, 566, [(115, 694, "OBS", CURICO_OBS), (334, 694, "MODEL", CURICO_MODEL)], VMAX["Curico"]),
    ("Los Ángeles (21 de Mayo)", 692, 560, [(585, 694, "OBS", LOS_ANGELES_OBS), (804, 694, "MODEL", LOS_ANGELES_MODEL)], VMAX["Los Angeles"]),
    ("Osorno (Osorno)", 1147, 564, [(1048, 694, "OBS", OSORNO_OBS), (1268, 694, "MODEL", OSORNO_MODEL)], VMAX["Osorno"]),
]

LEGEND_BOXES = [(22, 80), (197, 257), (397, 455), (583, 643), (787, 846), (991, 1050), (1198, 1258)]

palette = sns.color_palette(SPEED_COLORS)
edge_palette = [tuple(c * 0.7 for c in col) for col in palette]

fig = plt.figure(figsize=(W / 100, H / 100), dpi=100)


def fx(x):
    return x / W


def fy(y):
    return 1 - y / H


def draw_rose(cx, cy, tag, cum, vmax):
    ax = fig.add_axes([fx(cx - R), fy(cy + R), 2 * R / W, 2 * R / H], projection="polar")
    ax.set_theta_zero_location("N")
    ax.set_theta_direction(-1)
    ax.set_rorigin(-0.075 * vmax)
    ax.set_ylim(0, vmax)
    theta = np.deg2rad(DIRECTIONS)
    base = np.zeros(len(DIRECTIONS))
    for k, top in enumerate(cum):
        top = np.maximum(np.asarray(top, float), base)
        ax.bar(theta, top - base, width=np.deg2rad(10), bottom=base, color=palette[k],
               edgecolor=edge_palette[k], linewidth=0.3, zorder=2)
        base = top
    ax.set_xticks(np.deg2rad(np.arange(0, 360, 30)))
    ax.set_yticks(vmax * np.array([0.2, 0.4, 0.6, 0.8]))
    ax.set_xticklabels([])
    ax.set_yticklabels([])
    ax.grid(True, color="#b5b5b5", linestyle=(0, (1, 2)), linewidth=0.6)
    ax.set_axisbelow(True)
    ax.spines["polar"].set_color("#7a7a7a")
    ax.spines["polar"].set_linewidth(0.8)
    for k in range(1, 6):
        v = round(vmax * k / 5, 1)
        ax.text(np.deg2rad(34), v + 0.065 * vmax, f"{v:g}%", fontsize=6, color="#222222",
                ha="center", va="center", zorder=5)
    ax.text(0.5, 0.5, "0%", transform=ax.transAxes, fontsize=5.5, color="#222222",
            ha="center", va="center", zorder=5)
    fig.text(fx(cx), fy(cy - R - 1), "N", fontsize=6, ha="center", va="bottom")
    fig.text(fx(cx), fy(cy + R + 2), "S", fontsize=6, ha="center", va="top")
    fig.text(fx(cx + R + 2), fy(cy), "E", fontsize=6, ha="left", va="center")
    fig.text(fx(cx - R - 2), fy(cy), "W", fontsize=6, ha="right", va="center")
    fig.text(fx(cx), fy(cy - R - 15), tag, fontsize=5, weight="bold", ha="center", va="center")


for title, tx, ty, roses, vmax in PANELS:
    fig.text(fx(tx), fy(ty), title, fontsize=14, ha="center", va="center",
             family=["Lato", "DejaVu Sans"], color="#111111")
    for cx, cy, tag, cum in roses:
        draw_rose(cx, cy, tag, cum, vmax)

# legend, strongest class first
for (x0, x1), label, k in zip(LEGEND_BOXES, SPEED_LABELS, range(6, -1, -1)):
    fig.add_artist(Rectangle((fx(x0), fy(838)), (x1 - x0) / W, 25 / H, transform=fig.transFigure,
                             facecolor=palette[k], edgecolor=edge_palette[k], linewidth=1.0))
    fig.text(fx(x1 + 7), fy(826), label, fontsize=12.5, ha="left", va="center",
             family=["Lato", "DejaVu Sans"], color="#111111")

fig.savefig("out.png", dpi=100)
